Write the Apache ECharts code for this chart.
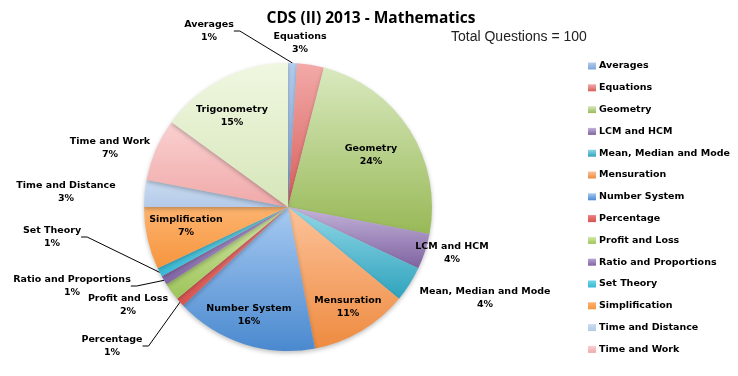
<!DOCTYPE html>
<html>
<head>
<meta charset="utf-8">
<script src="https://cdn.jsdelivr.net/npm/echarts@6/dist/echarts.min.js"></script>
<style>
	html, body { margin: 0; padding: 0; background: #fff; }
	#main { width: 738px; height: 376px; }
</style>
</head>
<body>
<div id="main"></div>
<script>
var topics = ["Averages", "Equations", "Geometry", "LCM and HCM", "Mean, Median and Mode", "Mensuration",
	"Number System", "Percentage", "Profit and Loss", "Ratio and Proportions", "Set Theory",
	"Simplification", "Time and Distance", "Time and Work", "Trigonometry"]; //类别
var questions = [1, 3, 24, 4, 4, 11, 16, 1, 2, 1, 1, 7, 3, 7, 15]; //题数
var legendTopics = topics.slice(0, 14); //图例里没有 Trigonometry

// 渐变色 上浅下深
var palette = [
	["#b3cdee", "#7ea6d8"], ["#f3aaa8", "#d55e5b"], ["#d9e9bf", "#98b957"], ["#c3b3d9", "#7f63a1"],
	["#92d7e7", "#2fa3bd"], ["#fcc29a", "#ee8b40"], ["#a7caf2", "#4a89cf"], ["#ec807e", "#d85350"],
	["#d6eaa9", "#9dc45b"], ["#b7a3d6", "#8064a3"], ["#6fd5e8", "#39b8d3"], ["#fdb36e", "#f6953e"],
	["#cadcf2", "#b4cae8"], ["#fad0d0", "#f0a9a9"], ["#f0f7e1", "#d6e6b9"]
];
// 标签位置 (Excel 手动摆放)
var labelPos = [
	[209, 31], [300, 43], [371, 155], [452, 253], [485, 298], [348, 307],
	[249, 315], [112, 346], [128, 305], [72, 286], [52, 237], [186, 226],
	[66, 192], [110, 148], [232, 116]
];
var withLine = { "Averages": 1, "Percentage": 1, "Ratio and Proportions": 1, "Set Theory": 1 };
var insideOnes = { "Geometry": 1, "Mensuration": 1, "Number System": 1, "Simplification": 1, "Trigonometry": 1 };

var seriesData = topics.map(function (name, i) {
	return {
		name: name,
		value: questions[i],
		itemStyle: {
			color: {
				type: 'linear', x: 0, y: 0, x2: 0, y2: 1,
				colorStops: [{ offset: 0, color: palette[i][0] }, { offset: 1, color: palette[i][1] }]
			}
		},
		label: { position: insideOnes[name] ? 'inside' : 'outside' },
		labelLine: { show: !!withLine[name] }
	};
});

var chart = echarts.init(document.getElementById('main'));
chart.setOption({
	animation: false,
	title: {
		text: 'CDS (II) 2013 - Mathematics',
		left: 366, top: 6, textAlign: 'center',
		textStyle: { fontFamily: 'Open Sans', fontWeight: 'bold', fontSize: 15.5, color: '#000' }
	},
	graphic: [{
		type: 'text', left: 451, top: 30,
		style: { text: 'Total Questions = 100', fontFamily: 'Liberation Sans', fontSize: 14, fill: '#222' }
	}],
	legend: {
		orient: 'vertical',
		left: 588, top: 60,
		padding: 0,
		data: legendTopics,
		icon: 'rect',
		itemWidth: 8, itemHeight: 7,
		itemGap: 9.8,
		selectedMode: false,
		textStyle: { fontFamily: 'DejaVu Sans', fontWeight: 'bold', fontSize: 9.5, color: '#000', lineHeight: 12, padding: [0, 0, 0, -2] }
	},
	series: [{
		type: 'pie',
		center: [288, 207],
		radius: 144,
		startAngle: 90,
		clockwise: true,
		data: seriesData,
		label: {
			formatter: '{b}\n{d}%',
			fontFamily: 'DejaVu Sans', fontWeight: 'bold', fontSize: 9.5, color: '#000',
			lineHeight: 13, align: 'center'
		},
		labelLine: { lineStyle: { color: '#000', width: 1 }, length: 10, length2: 6 },
		labelLayout: function (p) {
			var pos = labelPos[p.dataIndex];
			return { x: pos[0], y: pos[1], align: 'center', verticalAlign: 'middle', hideOverlap: false, moveOverlap: null };
		},
		itemStyle: { borderWidth: 0, shadowColor: 'rgba(0,0,0,0.25)', shadowBlur: 4, shadowOffsetY: 2 },
		emphasis: { disabled: true }
	}]
});
</script>
</body>
</html>
